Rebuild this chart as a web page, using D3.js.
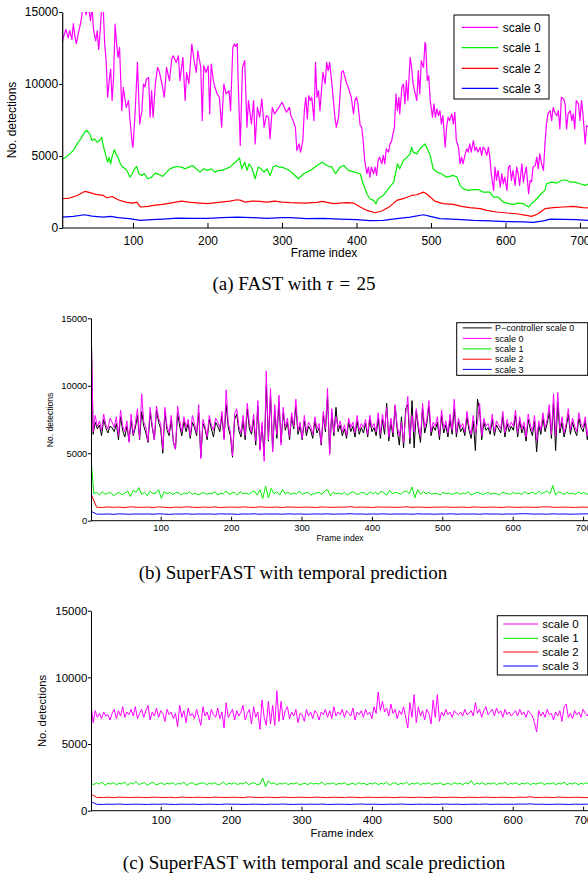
<!DOCTYPE html>
<html>
<head>
<meta charset="utf-8">
<script src="https://cdn.jsdelivr.net/npm/d3@7"></script>
<style>
  body { margin: 0; background: #fff; }
  svg { display: block; }
  text { font-family: "Liberation Sans", Arial, Helvetica, sans-serif; fill: #000; }
  .cap { font-family: "Liberation Serif", "Times New Roman", serif; }
</style>
</head>
<body>
<svg id="fig" width="588" height="881"></svg>
<script>
// ---- data ----
const yTicks = [0, 5000, 10000, 15000];
const xTicks = [100, 200, 300, 400, 500, 600, 700];
const scaleNames = ['scale 0', 'scale 1', 'scale 2', 'scale 3'];

// (a) FAST, tau = 25 : [frame, detections]
const fastScale0 = [[5,12900],[8,13500],[10,13800],[13,13200],[15,13700],[18,13100],[20,14200],[22,13300],[24,12800],[27,13600],[30,14300],[33,15400],[35,15400],[37,14800],[40,15400],[43,14400],[45,15400],[47,13800],[50,13000],[52,13700],[54,12400],[56,13700],[58,15400],[60,15400],[62,12800],[64,11600],[66,9080],[68,10200],[70,11040],[72,8850],[74,10500],[76,14160],[78,12800],[80,11850],[82,12540],[85,8150],[87,9770],[89,9000],[91,8380],[94,8850],[96,7500],[99,5840],[100,5600],[103,8150],[106,11500],[109,7230],[112,8150],[114,10000],[116,9800],[118,10350],[121,10460],[123,7700],[125,9540],[127,7700],[130,10000],[133,11150],[135,10930],[139,10000],[142,9080],[145,11150],[149,10230],[152,11730],[154,11960],[158,11500],[161,11960],[163,10230],[167,11850],[170,8850],[172,10800],[175,10000],[179,12770],[182,11620],[185,10800],[187,12300],[191,11150],[193,7460],[195,11270],[198,10800],[201,11270],[203,7920],[205,11390],[208,10200],[210,9770],[213,9310],[216,9080],[219,7000],[222,10000],[225,9310],[229,9540],[231,8150],[234,12540],[236,12770],[238,12600],[240,12800],[241,10500],[244,5730],[247,11150],[250,11620],[253,7000],[255,8850],[259,7230],[262,8850],[264,5840],[267,8380],[270,7700],[273,8960],[276,7000],[279,7800],[282,7700],[284,6190],[287,8380],[290,7920],[293,8150],[296,8380],[300,8730],[303,8380],[306,8040],[310,8380],[312,7800],[315,7460],[318,7000],[320,5380],[323,5840],[325,5270],[328,6070],[330,8150],[332,9080],[334,7580],[336,9190],[338,8850],[340,9080],[343,7460],[345,11500],[347,9080],[349,9540],[351,8150],[353,9540],[355,10800],[358,10000],[360,11500],[362,10930],[364,11500],[367,10000],[369,8850],[371,7700],[373,7000],[376,7700],[378,9310],[380,10800],[382,10930],[384,10580],[387,10000],[389,9770],[391,9430],[393,9080],[396,7920],[398,8850],[400,9080],[402,8620],[405,7110],[407,7000],[409,6070],[411,4690],[414,3770],[416,4230],[418,3530],[420,4230],[423,3770],[425,4230],[427,3650],[429,4690],[431,4920],[434,4460],[436,5040],[438,4460],[440,5500],[443,5270],[445,5840],[447,6000],[449,6540],[451,7000],[453,9310],[455,8150],[457,9080],[458,7920],[461,9770],[463,10000],[465,8620],[467,10230],[469,8850],[472,11850],[474,11150],[476,10000],[478,9540],[481,8850],[483,10930],[485,9310],[487,11620],[490,11150],[492,12890],[493,12700],[495,10230],[497,10580],[499,8850],[502,7700],[504,8620],[506,7700],[508,8270],[510,7800],[512,8150],[514,7230],[516,7800],[519,5610],[521,7000],[523,7700],[525,7460],[528,7920],[530,7230],[532,8040],[534,6070],[537,5610],[539,4460],[541,4920],[543,4460],[546,5150],[548,5500],[550,5270],[552,5840],[554,5270],[557,6070],[559,5380],[561,5610],[563,5270],[566,5610],[568,5040],[570,5610],[572,5500],[575,5040],[577,5610],[579,4920],[581,3770],[584,2610],[586,4230],[588,3300],[590,4000],[593,2840],[595,3770],[597,3070],[599,3530],[602,2610],[604,4230],[606,4340],[608,3300],[610,4000],[613,2960],[615,4230],[617,3770],[619,2960],[622,4460],[624,3190],[626,3770],[628,4230],[631,2380],[633,3300],[635,3200],[637,4230],[640,4340],[642,4920],[644,4110],[646,5150],[648,4570],[651,4000],[653,5840],[655,7230],[657,7920],[660,8150],[662,7460],[664,8380],[666,8040],[669,7800],[671,8150],[673,6880],[675,9080],[678,8960],[680,8620],[682,6880],[684,7920],[687,8150],[689,7460],[691,7920],[693,6880],[695,8850],[698,8620],[700,7460],[702,8850],[704,7920],[707,5840],[709,7110],[712,7000]];
const fastScale1 = [[5,4800],[10,4900],[15,5150],[20,5380],[25,5840],[30,6190],[35,6650],[38,6770],[42,6540],[45,6070],[48,6190],[52,5960],[55,6070],[58,6300],[60,5730],[63,5150],[66,4570],[68,4900],[70,4460],[72,4950],[75,5430],[78,5040],[80,4900],[83,4460],[86,4230],[90,4110],[93,3880],[96,3530],[99,3770],[102,4110],[105,4270],[108,3770],[112,3650],[115,3770],[120,3420],[125,3530],[130,3810],[135,3720],[140,3580],[145,3880],[150,4110],[155,4230],[160,4270],[165,4230],[170,4110],[175,4230],[180,4340],[185,4110],[190,3880],[195,4110],[200,4000],[205,4110],[210,3880],[215,4000],[220,4000],[225,4110],[230,4230],[235,4460],[240,4690],[243,4870],[246,4110],[250,4570],[253,4000],[256,4460],[260,4110],[264,3420],[268,4230],[272,4110],[276,3880],[280,4110],[284,3650],[288,4230],[292,4340],[296,4230],[300,4230],[305,4110],[310,4000],[315,3770],[322,3420],[329,3770],[338,4000],[347,4340],[354,4570],[360,4340],[367,4230],[372,3770],[378,4230],[383,4340],[389,4000],[398,3880],[405,3770],[409,3070],[414,2380],[418,2030],[423,1920],[426,1690],[429,2030],[436,2260],[443,2730],[450,3190],[455,4460],[458,4110],[463,4690],[468,4920],[472,5150],[474,5610],[476,5270],[481,5150],[485,5500],[490,5730],[492,5840],[495,5500],[499,5040],[503,4110],[508,3880],[514,3770],[521,3530],[530,3650],[535,3530],[539,2960],[543,2730],[550,2610],[557,2660],[564,2660],[570,2490],[579,2490],[584,2150],[590,2150],[597,1800],[604,1690],[611,1640],[617,1730],[624,1690],[631,1460],[635,1690],[642,2030],[648,2380],[653,2610],[655,3070],[662,3190],[669,3120],[675,3300],[680,3350],[687,3190],[693,3190],[700,3070],[707,2960],[712,3070]];
const fastScale2 = [[5,2030],[15,2080],[25,2260],[35,2540],[40,2490],[50,2330],[60,2260],[65,2100],[72,2190],[80,1960],[90,1800],[100,1730],[105,1800],[110,1460],[120,1500],[130,1590],[140,1640],[150,1730],[165,1870],[175,1800],[190,1730],[200,1690],[215,1780],[230,1870],[240,1960],[245,1920],[250,1800],[260,1870],[270,1850],[280,1800],[290,1870],[300,1800],[311,1760],[329,1730],[347,1780],[354,1850],[369,1690],[387,1760],[396,1730],[405,1460],[414,1220],[425,1060],[434,1180],[445,1500],[454,1920],[465,2080],[474,2260],[481,2310],[490,2490],[494,2380],[499,2150],[505,1870],[516,1690],[530,1640],[541,1500],[552,1410],[566,1340],[575,1220],[588,1110],[602,1040],[615,990],[628,880],[635,810],[644,990],[653,1340],[664,1410],[678,1460],[691,1500],[704,1410],[712,1390]];
const fastScale3 = [[5,760],[20,810],[35,920],[45,830],[60,760],[70,810],[80,720],[95,650],[110,530],[125,580],[140,620],[160,690],[180,670],[200,670],[220,720],[240,760],[260,720],[280,670],[300,720],[311,720],[333,650],[355,670],[378,620],[400,580],[418,510],[436,530],[454,650],[472,760],[490,920],[499,810],[512,650],[535,600],[557,530],[579,490],[602,440],[624,420],[637,390],[651,490],[660,620],[678,600],[696,580],[712,530]];

// (b) SuperFAST, temporal prediction (one value every 3 / 4 / 8 frames, from frame 1)
const pCtrlScale0 = [15000,6400,7300,6800,7100,6300,7500,6900,6500,7000, 6900,6600,7200,6000,7700,6700,6200,7000,5900,7400, 6300,6900,7800,6000,8100,7000,6500,5800,8000,6900, 6000,8200,7300,6800,5000,8100,6700,6300,7500,5800, 5300,8000,7000,6300,7400,6600,7200,6100,7300,6900, 6300,8000,4700,7200,6800,6000,7500,6800,6200,7300, 7000,6600,7800,6100,8600,6900,6300,4700,7500,7900, 6700,6200,7400,6000,8300,6800,6400,7500,5600,8500, 5300,7000,4800,10000,5900,9300,5200,8200,6100,8800, 5800,8000,6700,7300,6000,7700,6800,8500,6400,7000, 6000,7400,6300,7000,6700,6100,7400,6500,6900,5600, 7800,6600,9200,5000,8000,6300,8400,6600,7100,6300, 6800,6100,7300,6600,7000,6200,7400,6400,6900,6500, 7200,6200,7500,6600,6900,6300,7600,6100,7500,6400, 8700,5900,7300,6200,8500,6700,5600,7700,5400,8300, 8600,5700,8900,5400,8100,6800,5800,8300,6500,7200, 8500,6300,7000,6700,7300,6000,7800,6500,7100,6200, 7500,6400,8300,6200,7300,6600,6900,6300,7700,6700, 6100,7400,5200,9000,8200,6000,7300,6700,6900,6400, 7500,6300,7100,6800,6500,7700,6200,7200,6600,7000, 6700,7800,6200,7400,6500,7000,5900,7500,6800,6300, 7400,5100,7100,6400,7600,6600,7200,8100,6100,8700, 5200,8800,6500,7300,6200,6900,7900,6400,7300,6700, 6300,7600,6900,6600,7400,6000,7300,6500];
const tempScale0 = [15000,6600,7800,7000,7400,6700,7900,7100,6800,7600, 7300,6900,7700,6300,8200,7000,6600,7400,5800,7900, 6400,7200,8300,6100,9400,7300,6900,5900,8400,7100, 6000,8500,7600,7200,5300,8400,7000,6500,7800,5900, 5300,8500,7400,6600,7700,6900,7500,6300,7800,7200, 6500,8600,4600,7500,7000,6200,7800,7100,6700,7600, 7300,6900,8100,6000,9700,7200,6600,4800,7900,8300, 7000,6500,7800,6300,8700,7200,6600,7900,5900,8900, 5200,7300,4400,11100,6000,9800,5100,8600,6400,9300, 5600,8400,6900,7600,6200,8000,7000,9000,6700,7300, 6100,7800,6600,7300,7000,6400,7700,6800,7200,5700, 8100,6800,9800,4900,8300,6500,7700,6900,7400,6600, 7100,6300,7600,6900,7300,6500,7800,6700,7200,6900, 7500,6400,7800,6900,7200,6600,8000,6400,7900,6800, 8400,6200,7600,6500,8600,7000,6300,7300,5800,7900, 9200,6100,7800,6600,8300,7100,6200,8700,6900,7500, 8900,6600,7300,7000,7700,6300,8200,6800,7400,6500, 7900,6700,9000,6500,7600,6900,7200,6600,8100,7000, 6400,7800,6500,7300,8700,6300,7600,7000,7200,6700, 7900,6600,7400,7100,6800,8100,6500,7500,6900,7300, 7000,8200,6500,7700,6800,7300,6200,7900,7100,6600, 7800,5900,7400,6700,8000,6900,7500,8600,6400,9400, 6300,9500,6800,7700,6500,7200,8300,6700,7600,7000, 6600,8000,7200,6900,7700,6300,7600,6800];
const tempScale1 = [4700,2000,2100,1900,2150,1950,2050,2100,1850,2000, 2100,1900,2050,2200,1800,2250,2100,2450,1950,2100, 1850,2200,2000,2050,2300,1650,2150,2000,2100,1950, 2050,2100,1900,2050,2000,2150,1950,2050,1900,2000, 2100,1950,2050,2000,2150,1900,2050,2000,2200,1950, 2050,2100,1900,2150,2000,2050,1950,2100,2200,1900, 2300,1650,2550,1700,2400,2000,2150,1900,2300,2000, 2100,1950,2050,2000,2200,1950,2050,2100,1900,2000, 2050,2100,1950,2200,2300,1850,2100,2000,2050,1950, 2100,1900,2050,2150,2000,1950,2100,2050,1900,2150, 2000,2100,1950,2200,2050,1900,2250,2000,2100,2050, 1950,2150,2200,2000,2500,1700,2300,1950,2150,2000, 2100,1950,2050,2000,1900,2100,2000,2050,1950,2000, 2100,1950,2050,2000,2150,1900,2000,2100,2050,1950, 2000,2100,1950,2050,2000,1900,2100,2050,2000,1950, 2100,2000,2050,1950,2150,2000,2050,2100,1950,2200, 2000,2100,2200,2000,2600,1900,2150,2050,1950,2100, 2000,2050,1950,2150,2000,2100,1950,2050,2000];
const tempScale2 = [2000,1000,980,1020,990,1010,970,1030,1000,990, 1010,980,1020,1000,960,1010,990,1030,1000,980, 1010,990,1020,970,1000,1010,990,1020,1000,980, 1030,1000,990,1010,980,1020,1000,990,1010,1000, 980,1020,1000,990,1010,1000,1040,990,1010,1000, 980,1020,1000,1010,990,1000,1030,990,1010,1000, 980,1010,1000,1020,990,1000,1010,980,1020,1000, 990,1010,1000,980,1020,1000,990,1010,1000,990, 1020,1030,1000,990,1010,1000,980,1010,1000,990];
const tempScale3 = [700,490,480,500,470,510,490,480,500,490, 500,480,510,490,470,500,490,510,480,500, 490,500,480,510,490,500,470,500,490,510, 480,500,490,500,480,510,490,500,480,490, 500,490,510,480,500,490,520,490,500,480, 500,490,510,480,500,490,500,480,510,490, 500,480,500,490,510,480,500,490,500,480, 510,490,500,480,500,490,510,520,500,490, 500,480,510,490,500,480,490,500,510,490];

// (c) SuperFAST, temporal and scale prediction
const tsScale0 = [8000,6600,7500,7000,7300,6900,7400,7100,7200,6800, 7300,7600,6900,7500,7100,7800,7000,7400,7200,7600, 7100,7800,6900,7300,7600,7000,7500,7900,6800,7400, 7100,7700,7000,7500,7300,6700,7600,7200,7400,6900, 7300,6300,7900,7000,7500,6600,7700,7100,7300,6900, 7600,7000,6400,7800,7100,7400,6800,7600,7200,7000, 7700,6900,7400,6200,8100,7000,7300,7600,6800,7500, 7100,7400,7900,6800,7300,7600,6500,7800,7000,7400, 6100,8300,7000,6400,8200,6500,7900,6400,9000,6700, 8200,6800,7500,7800,6900,7400,7100,7600,6600,7300, 7200,6700,7600,7100,7400,6900,7500,7300,6800,7400, 7200,7600,7000,7500,6900,7800,7100,7400,7200,7600, 7000,7500,7300,7100,7700,6800,7400,7200,7500,7000, 7600,7200,7400,6900,7800,7300,8900,7500,8200,7400, 7700,7100,8000,7300,7600,6900,7500,7200,7800,7000, 6200,8100,7000,8700,6600,7800,7100,7500,6800,7600, 7300,6500,8300,7000,8700,6700,7400,7100,7600,7200, 7400,7000,7500,7300,7200,7400,7100,7600,7200,7300, 7500,7100,8100,7300,7600,7000,7500,7800,7200,7400, 7600,7100,7700,7300,7500,7000,7600,7200,7400,7100, 7300,7500,7100,7600,7200,7400,7000,7500,7300,7100, 6600,5900,7500,7100,7400,7000,7600,7200,7300,6800, 7400,7100,7500,6700,7800,8000,7000,7300,6900,7500, 7200,7400,7000,7600,7300,7100,7500,7000];
const tsScale1 = [2050,1950,2100,2000,2150,1900,2050,2000,2100,1950, 2050,2000,2150,1900,2100,2000,2200,1950,2050,2100, 1900,2050,2150,1950,2000,2100,1950,2050,2000,2100, 1950,2050,2000,2150,1900,2050,2100,1950,2000,2050, 2100,1950,2050,2000,2100,1950,2000,2150,1950,2050, 2000,2100,1950,2050,2000,2150,1950,2050,2100,1950, 2000,2450,1800,2250,2000,2100,1950,2050,2000,2100, 1950,2050,2000,2100,1950,2000,2050,1950,2100,2000, 2050,2000,2150,1950,2050,2000,2100,1950,2050,2000, 2100,1950,2000,2050,1950,2100,2000,2050,1950,2050, 2000,2100,1950,2050,2000,2150,1900,2050,2100,1950, 2050,2000,2150,1950,2050,2000,2100,1950,2050,2000, 2100,1950,2050,2000,2100,1950,2000,2050,1950,2100, 2000,2050,1950,2100,2000,2250,1950,2050,2000,2100, 1950,2050,2000,2100,1950,2050,2000,2150,1950,2050, 2000,2100,1950,2050,2000,2100,1950,2050,2000,2050, 2100,1950,2050,2000,2100,1950,2050,2000,2150,1950, 2050,2000,2100,1950,2050,2000,2100,1950,2050];
const tsScale2 = [1250,1000,990,1010,980,1020,1000,990,1010,1000, 980,1020,1000,990,1010,970,1020,1000,990,1010, 1000,980,1020,1000,990,1010,1000,980,1030,1000, 990,1010,1000,980,1020,1000,990,1010,1000,990, 1020,1000,980,1010,1000,990,1020,1000,980,1010, 1000,990,1010,1000,980,1020,1000,990,1010,1000, 980,1020,1000,990,1010,1000,980,1010,1000,990, 1020,1000,990,1010,1000,980,1020,1000,1040,990, 1000,1010,980,1020,1000,990,1010,1000,980,1000];
const tsScale3 = [680,480,470,490,480,500,470,480,490,480, 470,490,480,500,480,470,490,480,490,470, 480,490,480,470,500,480,490,470,480,490, 480,470,490,480,500,480,470,490,480,490, 480,500,470,480,490,480,470,490,500,480, 490,480,470,490,480,500,480,470,490,480, 490,470,480,500,480,490,470,480,490,480, 500,470,490,480,490,480,500,490,510,480, 490,470,480,490,480,470,490,480,490,480];

// pair sampled values with their frame numbers
function withFrames(values, step) {
    return values.map((v, i) => [1 + i * step, v]);
}

const svg = d3.select('#fig');
let clipId = 0;

function drawPanel(p) {
    let x = d3.scaleLinear().domain(p.xDomain).range([p.left, p.left + (p.xDomain[1] - p.xDomain[0]) * p.pxPerFrame]);
    let y = d3.scaleLinear().domain([0, 15000]).range([p.bottom, p.top]);
    let g = svg.append('g');

    let id = 'clip' + (clipId++);
    g.append('clipPath').attr('id', id).append('rect')
        .attr('x', p.left).attr('y', p.top)
        .attr('width', 588 - p.left).attr('height', p.bottom - p.top);

    let line = d3.line().x(d => x(d[0])).y(d => y(d[1]));
    g.append('g').attr('clip-path', 'url(#' + id + ')')
        .selectAll('path').data(p.series).enter()
        .append('path')
        .attr('d', d => line(d.data))
        .attr('fill', 'none')
        .attr('stroke', d => d.color)
        .attr('stroke-width', p.lineWidth)
        .attr('stroke-linejoin', 'round');

    // axes (MATLAB style: x ticks inside)
    let xAxis = g.append('g').attr('transform', 'translate(0,' + p.bottom + ')')
        .call(d3.axisBottom(x).tickValues(xTicks).tickFormat(d3.format('d'))
            .tickSizeInner(-p.tickLen).tickSizeOuter(0).tickPadding(p.xPad));
    xAxis.select('.domain').remove();
    xAxis.selectAll('line').attr('stroke', '#000');
    xAxis.selectAll('text').attr('font-size', p.tickFont).attr('font-family', null);
    g.append('line').attr('x1', p.left).attr('x2', 588).attr('y1', p.bottom).attr('y2', p.bottom)
        .attr('stroke', '#000').attr('stroke-width', p.axisWidth);

    let yAxis = g.append('g').attr('transform', 'translate(' + p.left + ',0)')
        .call(d3.axisLeft(y).tickValues(yTicks).tickFormat(d3.format('d'))
            .tickSizeInner(3).tickSizeOuter(0).tickPadding(p.yPad));
    yAxis.select('.domain').attr('stroke-width', p.axisWidth);
    yAxis.selectAll('text').attr('font-size', p.tickFont).attr('font-family', null);

    g.append('text').attr('x', p.xLabel[0]).attr('y', p.xLabel[1])
        .attr('text-anchor', 'middle').attr('font-size', p.labelFont).text('Frame index');
    g.append('text').attr('transform', 'translate(' + p.yLabel[0] + ',' + p.yLabel[1] + ') rotate(-90)')
        .attr('text-anchor', 'middle').attr('dy', '0.35em').attr('font-size', p.labelFont).text('No. detections');

    // legend
    let L = p.legend;
    let lg = g.append('g');
    lg.append('rect').attr('x', L.x).attr('y', L.y).attr('width', L.w).attr('height', L.h)
        .attr('fill', '#fff').attr('stroke', '#000').attr('stroke-width', 1);
    let items = lg.selectAll('g.item').data(p.series).enter().append('g');
    items.append('line')
        .attr('x1', L.lineX[0]).attr('x2', L.lineX[1])
        .attr('y1', (d, i) => L.rowY[i]).attr('y2', (d, i) => L.rowY[i])
        .attr('stroke', d => d.color).attr('stroke-width', p.lineWidth);
    items.append('text')
        .attr('x', L.textX).attr('y', (d, i) => L.rowY[i]).attr('dy', '0.35em')
        .attr('font-size', L.font).text(d => d.name);

    // caption
    let cap = svg.append('text').attr('class', 'cap')
        .attr('x', p.caption.x).attr('y', p.caption.y)
        .attr('text-anchor', 'middle').attr('font-size', 19);
    p.caption.parts.forEach(part => {
        let t = cap.append('tspan').text(part.t);
        if (part.italic) t.attr('font-style', 'italic');
    });
}

const colors = ['#ff00ff', '#00ee00', '#ff0000', '#0000ff'];

drawPanel({
    xDomain: [5, 715], left: 62.2, pxPerFrame: 0.745, top: 12, bottom: 228,
    lineWidth: 1.2, axisWidth: 1.2, tickLen: 5, tickFont: 12, labelFont: 12, xPad: 8.5, yPad: 1,
    xLabel: [324, 257], yLabel: [12, 120],
    series: [fastScale0, fastScale1, fastScale2, fastScale3].map((d, i) => ({ name: scaleNames[i], color: colors[i], data: d })),
    legend: { x: 454, y: 15, w: 95, h: 84, lineX: [461.7, 498.3], textX: 502.7, rowY: [27.3, 47.7, 68.3, 88.3], font: 12 },
    caption: { x: 294, y: 290, parts: [{ t: '(a) FAST with ' }, { t: 'τ', italic: true }, { t: '\u2004=\u200425' }] }
});

drawPanel({
    xDomain: [1, 715], left: 91, pxPerFrame: 0.704, top: 318.3, bottom: 520.7,
    lineWidth: 1, axisWidth: 1, tickLen: 4, tickFont: 9.4, labelFont: 8.5, xPad: 4, yPad: 0.7,
    xLabel: [340, 541], yLabel: [50, 420],
    series: [
        { name: 'P\u2212controller scale 0', color: '#000', data: withFrames(pCtrlScale0, 3) },
        { name: scaleNames[0], color: colors[0], data: withFrames(tempScale0, 3) },
        { name: scaleNames[1], color: colors[1], data: withFrames(tempScale1, 4) },
        { name: scaleNames[2], color: colors[2], data: withFrames(tempScale2, 8) },
        { name: scaleNames[3], color: colors[3], data: withFrames(tempScale3, 8) }
    ],
    legend: { x: 456.7, y: 322.7, w: 131, h: 52.6, lineX: [462.7, 491.7], textX: 495, rowY: [327.9, 338.4, 348.9, 359.2, 369.4], font: 9 },
    caption: { x: 293, y: 579, parts: [{ t: '(b) SuperFAST with temporal prediction' }] }
});

drawPanel({
    xDomain: [1, 715], left: 91, pxPerFrame: 0.704, top: 610.7, bottom: 810.7,
    lineWidth: 1, axisWidth: 1, tickLen: 4, tickFont: 11.5, labelFont: 11.3, xPad: 5.2, yPad: 0.7,
    xLabel: [342, 837], yLabel: [42, 711],
    series: [tsScale0, tsScale1, tsScale2, tsScale3].map((d, i) => ({
        name: scaleNames[i], color: colors[i], data: withFrames(d, [3, 4, 8, 8][i])
    })),
    legend: { x: 497.3, y: 615.7, w: 90.4, h: 59.3, lineX: [503.3, 538.3], textX: 542.3, rowY: [624, 638.3, 652, 666], font: 11.5 },
    caption: { x: 314, y: 869, parts: [{ t: '(c) SuperFAST with temporal and scale prediction' }] }
});
</script>
</body>
</html>
